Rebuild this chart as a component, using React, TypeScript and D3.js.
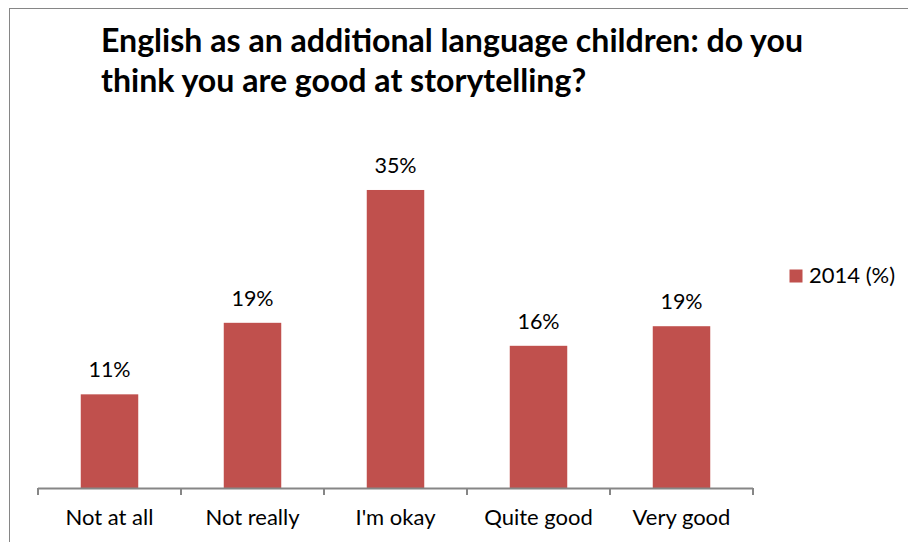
import React from "react";
import * as d3 from "d3";

const categories = ["Not at all", "Not really", "I'm okay", "Quite good", "Very good"];
const values2014 = [11.0, 19.4, 35.0, 16.7, 19.0];
const dataLabels = ["11%", "19%", "35%", "16%", "19%"];
const seriesName = "2014 (%)";
const titleLines = [
  "English as an additional language children: do you",
  "think you are good at storytelling?",
];

const W = 908;
const H = 542;
const FONT = "Lato, 'Open Sans', sans-serif";
const BAR = "#C0504D";
const AXIS = "#868686";

export default function App() {
  const x = d3.scaleBand<string>().domain(categories).range([38, 753]).paddingInner(0.598).paddingOuter(0.299);
  const y = d3.scaleLinear().domain([0, 40]).range([488, 147.4]);
  const ticks = d3.range(categories.length + 1).map((i) => 38 + i * x.step());

  return (
    <svg width={W} height={H} style={{ position: "absolute", left: 0, top: 0, background: "#fff" }} fontFamily={FONT}>
      <rect x={9.5} y={8.5} width={W + 20} height={H + 20} fill="#fff" stroke={AXIS} strokeWidth={1} />
      {titleLines.map((t, i) => (
        <text key={i} x={101} y={52 + i * 40} fontSize={32.1} fontWeight={700} fill="#000">
          {t}
        </text>
      ))}
      {categories.map((c, i) => (
        <g key={c}>
          <rect x={x(c)} y={y(values2014[i])} width={x.bandwidth()} height={y(0) - y(values2014[i])} fill={BAR} />
          <text x={(x(c) as number) + x.bandwidth() / 2} y={y(values2014[i]) - 17} textAnchor="middle" fontSize={21.5} fill="#000">
            {dataLabels[i]}
          </text>
          <text x={(x(c) as number) + x.bandwidth() / 2} y={525} textAnchor="middle" fontSize={22} fill="#000">
            {c}
          </text>
        </g>
      ))}
      <line x1={38} x2={753} y1={488.5} y2={488.5} stroke={AXIS} strokeWidth={2} />
      {ticks.map((t, i) => (
        <line key={i} x1={t} x2={t} y1={488} y2={495} stroke={AXIS} strokeWidth={2} />
      ))}
      <rect x={789.5} y={269.5} width={13} height={13} fill={BAR} />
      <text x={809} y={283} fontSize={22} fill="#000">
        {seriesName}
      </text>
    </svg>
  );
}
